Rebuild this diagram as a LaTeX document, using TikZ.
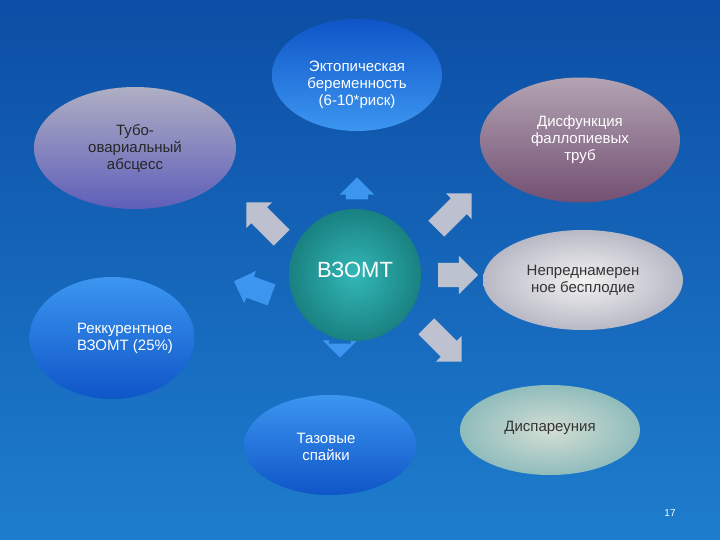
\documentclass[tikz,border=0pt]{standalone}
\usepackage{fontspec}
\setmainfont{Liberation Sans}
\usetikzlibrary{shapes.arrows,shapes.geometric}
\definecolor{bgA}{RGB}{12,78,165}
\definecolor{bgB}{RGB}{30,125,205}
\definecolor{eIn}{RGB}{60,150,240}
\definecolor{eOut}{RGB}{15,85,200}
\begin{document}
\begin{tikzpicture}[x=1pt,y=-1pt,
 ell/.style={ellipse,minimum width=#1,align=center,font=\fontsize{15}{17}\selectfont},
 barrow/.style={single arrow,minimum height=#1,single arrow head extend=7,inner sep=0pt,fill=blue!10!gray!40!white,opacity=0.95},
 bluearrow/.style={single arrow,minimum height=#1,single arrow head extend=6,inner sep=0pt,fill=eIn}]
\shade[top color=bgA,bottom color=bgB] (0,0) rectangle (720,540);
\useasboundingbox (0,0) rectangle (720,540);
% arrows
\node[bluearrow=22,rotate=90] (au) at (357,194) {\rule{0pt}{22pt}};
\node[barrow=50,rotate=135] (aul) at (268,224) {\rule{0pt}{22pt}};
\node[bluearrow=40,rotate=160] (al) at (258,290) {\rule{0pt}{22pt}};
\node[barrow=40,rotate=0] (ar) at (452,275) {\rule{0pt}{24pt}};
\node[barrow=50,rotate=45] (aur) at (450,215) {\rule{0pt}{22pt}};
\node[barrow=50,rotate=-45] (adr) at (440,340) {\rule{0pt}{22pt}};
\node[bluearrow=14,rotate=-90] (ad) at (340,345) {\rule{0pt}{22pt}};
% ellipses
\node[ell=170,minimum height=112,shade,top color=eOut,bottom color=eIn] (top) at (357,75) {};
\node[text=white,align=center,font=\fontsize{15}{17}\selectfont] (topt) at (357,85) {Эктопическая\\беременность\\(6-10*риск)};
\node[ell=202,minimum height=122,shade,top color=blue!15!gray!55!white,bottom color=blue!40!gray!90!white,text=black!85] (tl) at (135,148) {Тубо-\\овариальный\\абсцесс};
\node[ell=200,minimum height=125,shade,top color=violet!20!gray!60!white,bottom color=violet!30!gray!90!black,text=white] (tr) at (580,140) {Дисфункция\\фаллопиевых\\труб};
\node[circle,minimum size=132,shade,inner color=teal!70!cyan!80!white,outer color=teal!90!black!90] (c) at (355,275) {};
\node[text=white,font=\fontsize{22}{24}\selectfont] at (355,270) {ВЗОМТ};
\node[ell=200,minimum height=100,shade,inner color=gray!10!white,outer color=blue!10!gray!50!white,text=black!80] (rm) at (583,280) {Непреднамерен\\ное бесплодие};
\node[ell=165,minimum height=122,shade,top color=eIn,bottom color=eOut] (lm) at (112,338) {};
\node[text=white,align=left,font=\fontsize{15}{17}\selectfont] at (125,338) {Реккурентное\\ВЗОМТ (25\%)};
\node[ell=172,minimum height=100,shade,top color=eIn,bottom color=eOut] (bc) at (330,445) {};
\node[text=white,align=center,font=\fontsize{15}{17}\selectfont] at (326,447) {Тазовые\\спайки};
\node[ell=180,minimum height=90,shade,inner color=green!15!gray!30!white,outer color=cyan!25!gray!70!white] (br) at (550,430) {};
\node[text=black!80,font=\fontsize{15}{17}\selectfont] at (550,428) {Диспареуния};
\node[text=white,font=\fontsize{10}{12}\selectfont] (num) at (670,513) {17};
\end{tikzpicture}
\end{document}
